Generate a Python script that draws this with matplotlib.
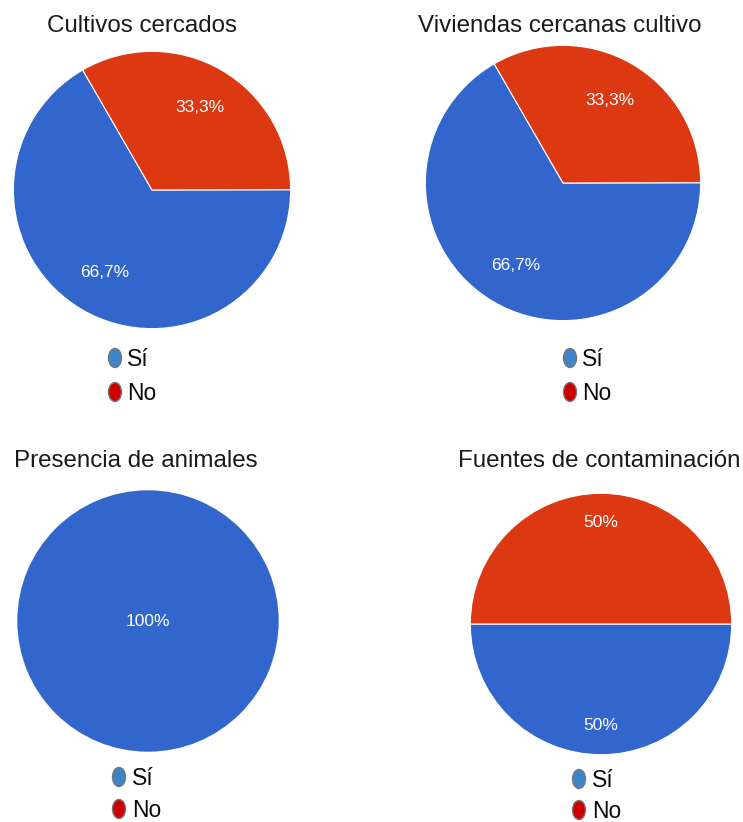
import matplotlib
matplotlib.use("Agg")
import numpy as np
import matplotlib.pyplot as plt
from matplotlib.patches import Ellipse

plt.rcParams["font.family"] = ["Liberation Sans", "DejaVu Sans"]

# data
titles = ["Cultivos cercados", "Viviendas cercanas cultivo",
          "Presencia de animales", "Fuentes de contaminación"]
legend_labels = ["Sí", "No"]
cultivos = [66.7, 33.3]
viviendas = [66.7, 33.3]
animales = [100.0]
fuentes = [50.0, 50.0]
pct_labels = [["66,7%", "33,3%"], ["66,7%", "33,3%"], ["100%"], ["50%", "50%"]]

series = [cultivos, viviendas, animales, fuentes]
pie_colors = ["#3366cc", "#dc3912"]
legend_colors = ["#3d85c6", "#cc0000"]

W, H = 743, 822
fig = plt.figure(figsize=(W / 100, H / 100), dpi=100)

# layout in pixels: (cx, cy, r), start angle, label distance
layout = [
    ((152, 190, 140), 120, 0.69),
    ((563, 183, 139), 120, 0.69),
    ((148, 621, 132), 90, 0.0),
    ((601, 624, 132), 180, 0.78),
]
title_pos = [(142, 32), (560, 32), (136, 467), (599, 467)]
legend_pos = [(115, 358, 34, 127), (570, 358, 34, 582),
              (119, 777, 32, 132), (579, 779, 31, 592)]

for vals, labels, ((cx, cy, r), start, dist) in zip(series, pct_labels, layout):
    ax = fig.add_axes([(cx - r) / W, (H - cy - r) / H, 2 * r / W, 2 * r / H])
    wedges, _ = ax.pie(vals, colors=pie_colors[:len(vals)], startangle=start,
                       counterclock=True, radius=1,
                       wedgeprops=dict(edgecolor="white",
                                       linewidth=0.8 if len(vals) > 1 else 0))
    for w, lab in zip(wedges, labels):
        mid = np.deg2rad((w.theta1 + w.theta2) / 2)
        ax.text(dist * np.cos(mid), dist * np.sin(mid), lab, color="white",
                fontsize=12.5, ha="center", va="center")
    ax.set_xlim(-1.01, 1.01)
    ax.set_ylim(-1.01, 1.01)
    ax.set_aspect("equal")
    ax.axis("off")

ov = fig.add_axes([0, 0, 1, 1])
ov.set_xlim(0, W)
ov.set_ylim(H, 0)
ov.axis("off")

for t, (tx, ty) in zip(titles, title_pos):
    ov.text(tx, ty, t, fontsize=17.4, color="#1a1a1a", ha="center", va="baseline")

for (mx, my, gap, tx) in legend_pos:
    for i, (lab, col) in enumerate(zip(legend_labels, legend_colors)):
        y = my + i * gap
        ov.add_patch(Ellipse((mx, y), 13, 19, facecolor=col,
                             edgecolor="#777777", linewidth=1.0))
        ov.text(tx, y + 1, lab, fontsize=16.5, color="#0a0a0a", ha="left", va="center")

fig.savefig("out.png", dpi=100, facecolor="white")
